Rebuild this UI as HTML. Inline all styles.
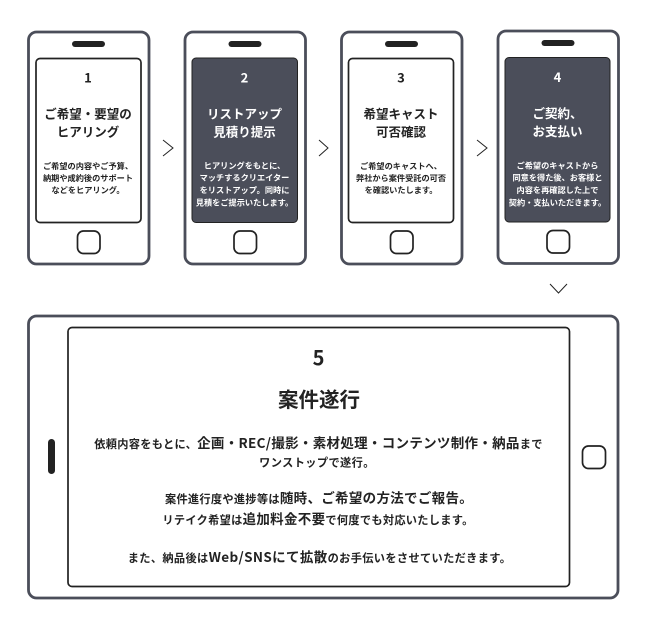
<!DOCTYPE html>
<html lang="ja"><head><meta charset="utf-8">
<style>
html,body{margin:0;padding:0;background:#fff;width:650px;height:628px;overflow:hidden}
svg{display:block}
text{font-family:"Noto Sans CJK JP","Liberation Sans",sans-serif;text-anchor:middle;fill:#222;font-weight:700}
.n{font-size:13px}
.t{font-size:12.5px}
.b{font-size:8.2px}
.w text{fill:#fff}
.o{fill:#fff;stroke:#4b4e5a;stroke-width:2.8}
.i{fill:#fff;stroke:#222;stroke-width:1.7}
.d{fill:#4b4e5a;stroke:#222;stroke-width:1}
.h{fill:#fff;stroke:#222;stroke-width:1.7}
.s{fill:#222}
.a{fill:none;stroke:#222;stroke-width:1}
.l{font-size:11.2px;letter-spacing:.3px}
.l tspan.g{font-size:13.5px}
</style></head><body>
<svg width="650" height="628" viewBox="0 0 650 628" xmlns="http://www.w3.org/2000/svg">
<!-- phone 1 -->
<rect class="o" x="28.5" y="32" width="120.5" height="232" rx="8"/>
<rect class="s" x="72" y="41" width="33" height="6" rx="3"/>
<rect class="i" x="36" y="58.5" width="105" height="164" rx="4"/>
<rect class="h" x="77.5" y="231" width="22.5" height="22.5" rx="6"/>
<g>
<text class="n" x="88" y="82.5">1</text>
<text class="t" x="88" y="118.5">ご希望・要望の</text>
<text class="t" x="88" y="136.5">ヒアリング</text>
<text class="b" x="88" y="169">ご希望の内容やご予算、</text>
<text class="b" x="88" y="181">納期や成約後のサポート</text>
<text class="b" x="88" y="193">などをヒアリング。</text>
</g>
<!-- phone 2 -->
<rect class="o" x="185" y="32" width="120.5" height="232" rx="8"/>
<rect class="s" x="228.5" y="41" width="33" height="6" rx="3"/>
<rect class="d" x="192" y="58" width="105.5" height="164.5" rx="4"/>
<rect class="h" x="234" y="231" width="22.5" height="22.5" rx="6"/>
<g class="w">
<text class="n" x="244.5" y="82.5">2</text>
<text class="t" x="244.5" y="118.5">リストアップ</text>
<text class="t" x="244.5" y="136.5">見積り提示</text>
<text class="b" x="244.5" y="168.5">ヒアリングをもとに、</text>
<text class="b" x="244.5" y="180.5">マッチするクリエイター</text>
<text class="b" x="244.5" y="193">をリストアップ。同時に</text>
<text class="b" x="244.5" y="205.5">見積をご提示いたします。</text>
</g>
<!-- phone 3 -->
<rect class="o" x="341.5" y="32" width="120.5" height="232" rx="8"/>
<rect class="s" x="385" y="41" width="33" height="6" rx="3"/>
<rect class="i" x="348.5" y="58.5" width="105" height="164" rx="4"/>
<rect class="h" x="390.5" y="231" width="22.5" height="22.5" rx="6"/>
<g>
<text class="n" x="401" y="82.5">3</text>
<text class="t" x="401" y="118.5">希望キャスト</text>
<text class="t" x="401" y="136.5">可否確認</text>
<text class="b" x="401" y="169">ご希望のキャストへ、</text>
<text class="b" x="401" y="181">弊社から案件受託の可否</text>
<text class="b" x="401" y="193">を確認いたします。</text>
</g>
<!-- phone 4 -->
<rect class="o" x="498" y="31" width="120.5" height="232.5" rx="8"/>
<rect class="s" x="541.5" y="40" width="33" height="6" rx="3"/>
<rect class="d" x="505" y="57.5" width="105" height="164.5" rx="4"/>
<rect class="h" x="547" y="230.5" width="22.5" height="22.5" rx="6"/>
<g class="w">
<text class="n" x="557.5" y="82">4</text>
<text class="t" x="557.5" y="118">ご契約、</text>
<text class="t" x="557.5" y="136">お支払い</text>
<text class="b" x="557.5" y="168.5">ご希望のキャストから</text>
<text class="b" x="557.5" y="180.5">同意を得た後、お客様と</text>
<text class="b" x="557.5" y="193">内容を再確認した上で</text>
<text class="b" x="557.5" y="205.5">契約・支払いただきます。</text>
</g>
<!-- arrows -->
<polyline class="a" points="163,140 173,148 163,156"/>
<polyline class="a" points="319,140 328,148 319,156"/>
<polyline class="a" points="477,140 487,148 477,156"/>
<polyline class="a" points="550,284 558.5,293 567,284"/>
<!-- tablet -->
<rect class="o" x="28.5" y="316" width="589.5" height="282" rx="8"/>
<rect class="i" x="68" y="327.5" width="501.5" height="259" rx="4"/>
<rect class="s" x="48" y="439" width="7" height="35" rx="3.5"/>
<rect class="h" x="582.5" y="446" width="23" height="22.5" rx="6"/>
<text x="318.5" y="365" style="font-size:20px">5</text>
<text x="319" y="407" style="font-size:20.5px">案件遂行</text>
<text class="l" x="318.5" y="448">依頼内容をもとに、<tspan class="g">企画・REC/撮影・素材処理・コンテンツ制作・納品</tspan>まで</text>
<text class="l" x="317" y="466.5" style="letter-spacing:.4px">ワンストップで遂行。</text>
<text class="l" x="319" y="503">案件進行度や進捗等は<tspan class="g">随時、ご希望の方法でご報告。</tspan></text>
<text class="l" x="318" y="524">リテイク希望は<tspan class="g">追加料金不要</tspan>で何度でも対応いたします。</text>
<text class="l" x="319.5" y="562" style="letter-spacing:.36px">また、納品後は<tspan class="g">Web/SNSにて拡散</tspan>のお手伝いをさせていただきます。</text>
</svg>
</body></html>
